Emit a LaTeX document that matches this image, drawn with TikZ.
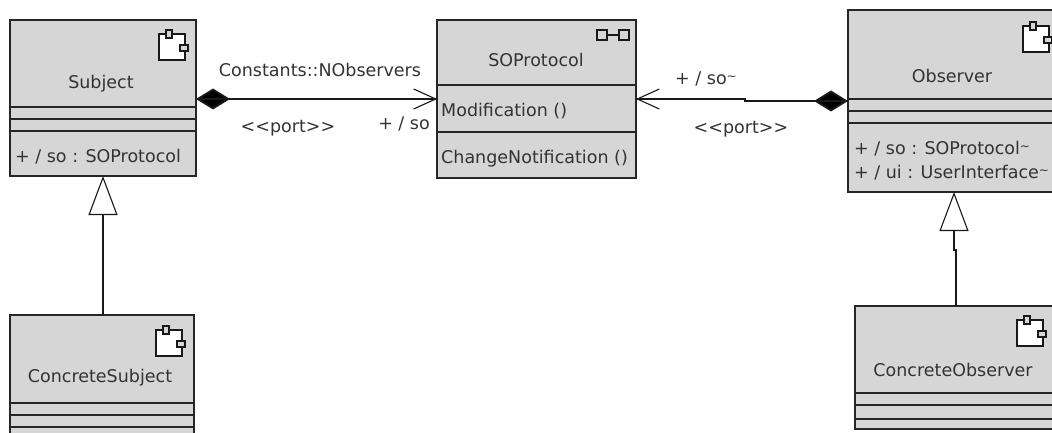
\documentclass[tikz,border=0pt]{standalone}
\usepackage{fontspec}
\setmainfont{DejaVu Sans}
\usetikzlibrary{arrows.meta}
\definecolor{boxgray}{HTML}{D6D6D6}
\definecolor{inkgray}{HTML}{333333}
\newcommand{\smalltilde}{\raisebox{4pt}{\fontsize{12}{12}\selectfont\char"007E}}
\tikzset{
  x=1pt,y=-1pt,
  classbox/.style={draw=black!85,line width=1.8pt,fill=boxgray,rectangle,inner sep=0pt,outer sep=0pt,anchor=north west},
  lbl/.style={font=\fontsize{17.5}{21}\selectfont,text=inkgray,inner sep=0pt,yshift=-1.5pt},
  attr/.style={lbl,anchor=west},
  divider/.style={draw=black!85,line width=1.6pt},
  conn/.style={draw=black!90,line width=1.8pt},
  compo/.style={conn,{Diamond[length=34pt,width=21pt,fill=black]}-},
  openarr/.style={conn,-{Straight Barb[length=22pt,width=20pt,line width=1.1pt]}},
  gener/.style={conn,-{Triangle[open,length=39pt,width=29pt,line width=1.1pt,fill=white]}},
  iconline/.style={draw=black!90,line width=1.3pt},
  compico/.pic={
    \draw[iconline,fill=white] (0,0) rectangle (26,26);
    \draw[iconline,fill=boxgray] (7,-4) rectangle (13,4);
    \draw[iconline,fill=boxgray] (21,11) rectangle (29,17);
  }
}
\begin{document}
\begin{tikzpicture}
\useasboundingbox (0,0) rectangle (1052,433);
\clip (0,0) rectangle (1052,433);
% boxes
\node[classbox,minimum width=186pt,minimum height=156pt] (subject) at (10,20) {};
\node[classbox,minimum width=199pt,minimum height=158pt] (protocol) at (437,20) {};
\node[classbox,minimum width=214pt,minimum height=182pt] (observer) at (848,10) {};
\node[classbox,minimum width=184pt,minimum height=130pt] (csubject) at (10,315) {};
\node[classbox,minimum width=207pt,minimum height=123pt] (cobserver) at (855,306) {};
% dividers
\foreach \yy in {107,119,131} \draw[divider] (10,\yy) -- (196,\yy);
\foreach \yy in {85,132} \draw[divider] (437,\yy) -- (636,\yy);
\foreach \yy in {99,111,123} \draw[divider] (848,\yy) -- (1062,\yy);
\foreach \yy in {403,415,427} \draw[divider] (10,\yy) -- (194,\yy);
\foreach \yy in {393,405,419} \draw[divider] (855,\yy) -- (1062,\yy);
% icons
\pic at (159,34) {compico};
\pic at (1023,26) {compico};
\pic at (156,330) {compico};
\pic at (1017,320) {compico};
\draw[iconline] (597,30) rectangle (607,40);
\draw[iconline] (619,30) rectangle (629,40);
\draw[iconline] (607,35) -- (619,35);
% box texts
\node[lbl] (tsubject) at (101,82) {Subject};
\node[attr] (asubject) at (15,155) {+ / so : SOProtocol};
\node[lbl] (tprotocol) at (536,58) {SOProtocol};
\node[attr] (mod) at (441,110) {Modification ()};
\node[attr] (chg) at (441,157) {ChangeNotification ()};
\node[lbl] (tobserver) at (952,74) {Observer};
\node[attr] (aobs1) at (854,147) {+ / so : SOProtocol\smalltilde};
\node[attr] (aobs2) at (854,171) {+ / ui : UserInterface\smalltilde};
\node[lbl] (tcsubject) at (100,376) {ConcreteSubject};
\node[lbl] (tcobserver) at (953,368) {ConcreteObserver};
% connector labels
\node[lbl] (lconst) at (320,68) {Constants::NObservers};
\node[lbl] (lport1) at (288,127) {<{}<port>{}>};
\node[lbl] (lso) at (404,122) {+ / so};
\node[lbl,anchor=west] (lsot) at (675,77) {+ / so\smalltilde};
\node[lbl] (lport2) at (741,128) {<{}<port>{}>};
% connectors
\coordinate (sr) at (subject.east |- 0,99);
\coordinate (pl) at (protocol.west |- 0,99);
\coordinate (pr) at (protocol.east |- 0,99);
\coordinate (ol) at (observer.west |- 0,101);
\draw[compo] (sr) -- (pl);
\draw[openarr] (sr) -- (pl);
\draw[compo] (ol) -- (745,101) -- (745,99) -- (pr);
\draw[openarr] (ol) -- (745,101) -- (745,99) -- (pr);
\coordinate (ct) at (103,0 |- csubject.north);
\coordinate (sb) at (103,0 |- subject.south);
\draw[gener] (ct) -- (sb);
\coordinate (cot) at (956,0 |- cobserver.north);
\coordinate (ob) at (954,0 |- observer.south);
\draw[gener] (cot) -- (956,250) -- (954,250) -- (ob);
\end{tikzpicture}
\end{document}
